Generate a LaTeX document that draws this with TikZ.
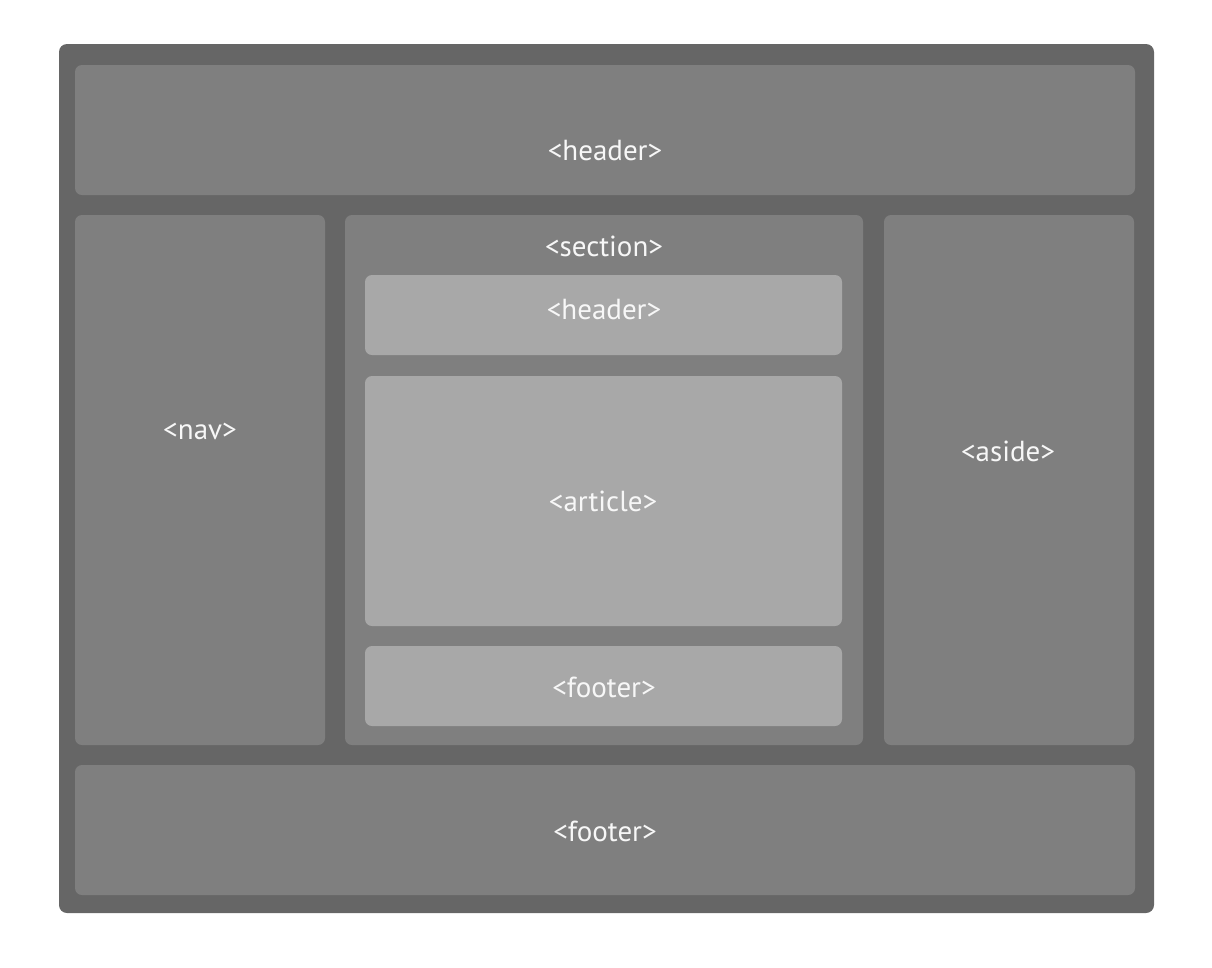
\documentclass[tikz,border=0pt]{standalone}
\usepackage{fontspec}
\setmainfont{PT Sans}
\definecolor{frame}{HTML}{666666}
\definecolor{panel}{HTML}{7F7F7F}
\definecolor{inner}{HTML}{A8A8A8}
\definecolor{label}{HTML}{F7F7F7}
\begin{document}
\begin{tikzpicture}[x=1pt,y=-1pt,
  panelbox/.style={fill=panel,rounded corners=7pt},
  innerbox/.style={fill=inner,rounded corners=7pt},
  tag/.style={text=label,font=\fontsize{29}{33}\selectfont,inner sep=0pt,anchor=center}]
\useasboundingbox (0,0) rectangle (1212,967);
% outer frame
\fill[frame,rounded corners=8pt] (59,44) rectangle (1154,913);
% top level regions
\fill[panelbox] (75,65) rectangle (1135,195);
\fill[panelbox] (75,215) rectangle (325,745);
\fill[panelbox] (345,215) rectangle (863,745);
\fill[panelbox] (884,215) rectangle (1134,745);
\fill[panelbox] (75,765) rectangle (1135,895);
% contents of the section
\fill[innerbox] (365,275) rectangle (842,355);
\fill[innerbox] (365,376) rectangle (842,626);
\fill[innerbox] (365,646) rectangle (842,726);
% labels
\node[tag] (hdr) at (605,151) {<header>};
\node[tag] (nav) at (200,431) {<nav>};
\node[tag] (sec) at (604,246) {<section>};
\node[tag] (shdr) at (604,310) {<header>};
\node[tag] (art) at (603,501) {<article>};
\node[tag] (sftr) at (604,687) {<footer>};
\node[tag] (aside) at (1008,451) {<aside>};
\node[tag] (ftr) at (605,831) {<footer>};
\end{tikzpicture}
\end{document}
